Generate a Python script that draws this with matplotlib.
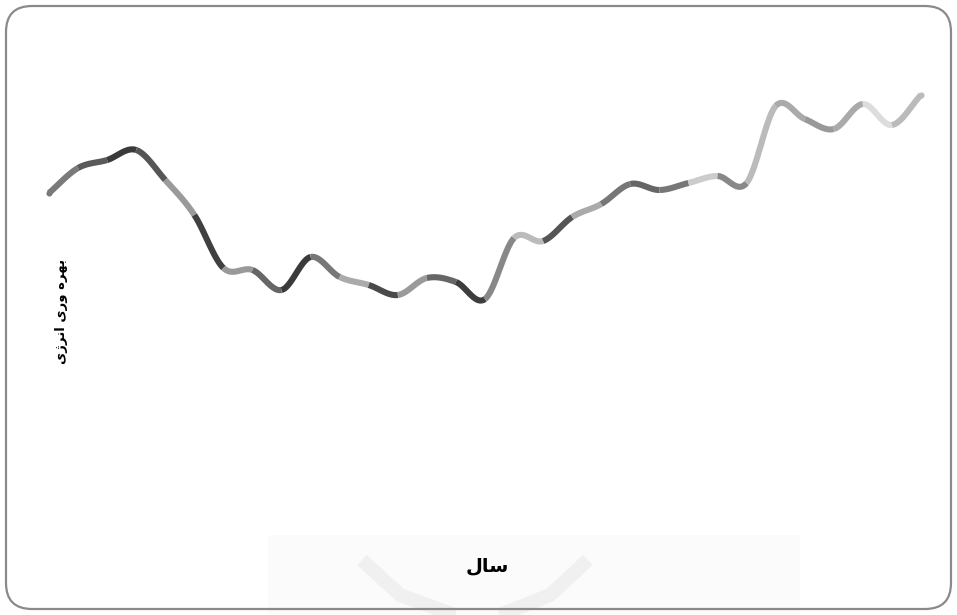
import numpy as np
import matplotlib.pyplot as plt
from matplotlib.patches import FancyBboxPatch

# years (x axis has no ticks in the reference)
years = [1360, 1361, 1362, 1363, 1364, 1365, 1366, 1367, 1368, 1369,
         1370, 1371, 1372, 1373, 1374, 1375, 1376, 1377, 1378, 1379,
         1380, 1381, 1382, 1383, 1384, 1385, 1386, 1387, 1388, 1389, 1390]
# energy productivity (arbitrary units)
values = [69.4, 74.4, 76.0, 78.0, 72.0, 65.0, 54.4, 54.0, 50.0, 56.6,
          52.6, 51.0, 49.0, 52.4, 51.6, 48.2, 60.4, 59.8, 64.6, 67.2,
          71.2, 70.0, 71.4, 72.8, 71.4, 86.8, 84.2, 82.2, 87.2, 83.0, 89.0]
# grey shade of each segment
seg_colors = ['#7a7a7a', '#5a5a5a', '#3a3a3a', '#555555', '#9a9a9a',
              '#404040', '#999999', '#666666', '#3a3a3a', '#777777',
              '#aaaaaa', '#4a4a4a', '#9a9a9a', '#666666', '#3d3d3d',
              '#888888', '#bbbbbb', '#555555', '#aaaaaa', '#777777',
              '#666666', '#777777', '#cccccc', '#888888', '#bbbbbb',
              '#aaaaaa', '#999999', '#aaaaaa', '#dddddd', '#bbbbbb']

# labels written in visual order with Arabic presentation forms
ylabel = "\u06CC\u0698\uFEAE\uFEE7\u0627 \u06CC\u0631\u0648 \u0647\uFEAE\uFEEC\uFE91"  # بهره وری انرژی
xlabel = "\uFEDD\uFE8E\uFEB3"  # سال


def catmull_rom(x, y, n=30):
    # smooth curve through the points, one piece per interval
    x = np.asarray(x, float)
    y = np.asarray(y, float)
    px = np.concatenate([[2 * x[0] - x[1]], x, [2 * x[-1] - x[-2]]])
    py = np.concatenate([[2 * y[0] - y[1]], y, [2 * y[-1] - y[-2]]])
    t = np.linspace(0, 1, n)[:, None]
    pieces = []
    for i in range(1, len(px) - 2):
        p0 = np.array([px[i - 1], py[i - 1]])
        p1 = np.array([px[i], py[i]])
        p2 = np.array([px[i + 1], py[i + 1]])
        p3 = np.array([px[i + 2], py[i + 2]])
        b1 = p1 + (p2 - p0) / 6
        b2 = p2 - (p3 - p1) / 6
        c = ((1 - t) ** 3) * p1 + 3 * ((1 - t) ** 2) * t * b1 + 3 * (1 - t) * t ** 2 * b2 + t ** 3 * p2
        pieces.append(c)
    return pieces


fig = plt.figure(figsize=(9.57, 6.15), dpi=100)

# faint watermark at the bottom (pixel coordinates)
wm = fig.add_axes([0, 0, 1, 1], zorder=0)
wm.set_xlim(0, 957)
wm.set_ylim(615, 0)
wm.axis('off')
wm.fill_between([268, 800], 535, 615, color='#fbfbfb', lw=0)
wm.plot([362, 400, 455], [560, 595, 615], color='#f0f0f0', lw=10, solid_capstyle='butt')
wm.plot([588, 550, 500], [560, 595, 615], color='#f0f0f0', lw=10, solid_capstyle='butt')

ax = fig.add_axes([49 / 957, 75 / 615, 872 / 957, 500 / 615], zorder=1)
ax.set_xlim(0, len(years) - 1)
ax.set_ylim(0, 100)
ax.axis('off')

xi = np.arange(len(years))
lw = 4.4
for piece, col in zip(catmull_rom(xi, values), seg_colors):
    ax.plot(piece[:, 0], piece[:, 1], color=col, lw=lw, solid_capstyle='butt', clip_on=False)
ax.plot([xi[0]], [values[0]], 'o', color=seg_colors[0], ms=lw, mew=0, clip_on=False)
ax.plot([xi[-1]], [values[-1]], 'o', color=seg_colors[-1], ms=lw, mew=0, clip_on=False)

border = FancyBboxPatch((0.06, 0.06), 9.45, 6.03,
                        boxstyle='round,pad=0,rounding_size=0.26',
                        transform=fig.dpi_scale_trans, fill=False,
                        edgecolor='#8a8a8a', lw=1.6)
fig.patches.append(border)

fig.text(62 / 957, 1 - 311 / 615, ylabel, rotation=90, ha='center', va='center',
         fontsize=9.5, fontweight='bold', family='DejaVu Sans', zorder=2)
fig.text(487 / 957, 1 - 566 / 615, xlabel, ha='center', va='center',
         fontsize=14, fontweight='bold', family='DejaVu Sans', zorder=2)

fig.savefig('out.png', dpi=100)
